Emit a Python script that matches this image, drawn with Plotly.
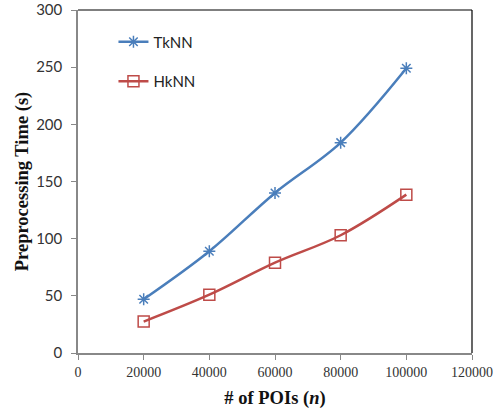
import plotly.graph_objects as go

pois = [20000, 40000, 60000, 80000, 100000]
tknn = [47, 89, 140, 184, 249]
hknn = [27.5, 51, 79, 103, 138.5]
x_ticks = [0, 20000, 40000, 60000, 80000, 100000, 120000]
y_ticks = [0, 50, 100, 150, 200, 250, 300]

fig = go.Figure()
fig.add_trace(go.Scatter(
    x=pois, y=tknn, name="TkNN", mode="lines+markers", legendgroup="a",
    line=dict(color="#4A7EBB", width=2.5, shape="spline", smoothing=1.0),
    marker=dict(symbol="asterisk-open", size=10, color="#4A7EBB", line=dict(color="#4A7EBB", width=1.5)),
))
fig.add_trace(go.Scatter(
    x=pois, y=hknn, name="HkNN", mode="lines+markers", legendgroup="b",
    line=dict(color="#BE4B48", width=2.5, shape="spline", smoothing=1.0),
    marker=dict(symbol="square-open", size=11, color="#BE4B48", line=dict(color="#BE4B48", width=1.5)),
))

fig.update_layout(
    width=493, height=415,
    margin=dict(l=78, r=21, t=10, b=62, autoexpand=False),
    paper_bgcolor="white", plot_bgcolor="white",
    showlegend=True,
    legend=dict(x=0.09, y=0.955, xanchor="left", yanchor="top",
                font=dict(family="Lato, DejaVu Sans, sans-serif", size=15, color="#222"),
                tracegroupgap=17, bgcolor="rgba(0,0,0,0)", itemwidth=30),
    xaxis=dict(range=[0, 120000], tickvals=x_ticks, ticktext=[str(v) for v in x_ticks],
               showgrid=False, zeroline=False, showline=True, linecolor="#888", linewidth=1.5,
               ticks="outside", ticklen=5, tickcolor="#888", automargin=False,
               tickfont=dict(family="Liberation Serif, serif", size=14, color="#333"),
               title=dict(text="# of POIs (<i>n</i>)", standoff=13,
                          font=dict(family="Liberation Serif, serif", size=18.5, color="#111", weight="bold"))),
    yaxis=dict(range=[0, 300], tickvals=y_ticks, showgrid=False, zeroline=False,
               showline=True, linecolor="#888", linewidth=1.5,
               ticks="outside", ticklen=5, tickcolor="#888", automargin=False,
               ticklabelstandoff=6,
               tickfont=dict(family="Lato, DejaVu Sans, sans-serif", size=15, color="#333"),
               title=dict(text="Preprocessing Time (s)", standoff=3,
                          font=dict(family="Liberation Serif, serif", size=18.5, color="#111", weight="bold"))),
    shapes=[
        dict(type="line", xref="paper", yref="paper", x0=0, x1=1, y0=1, y1=1, line=dict(color="black", width=1.2)),
        dict(type="line", xref="paper", yref="paper", x0=1, x1=1, y0=0, y1=1, line=dict(color="black", width=1.2)),
    ],
)
fig.write_html("out.html", config={"displayModeBar": False})

with open("out.html", "r", encoding="utf-8") as f:
    html = f.read()
html = html.replace("<head>", "<head><style>html,body{margin:0;padding:0;overflow:hidden;}</style>", 1)
with open("out.html", "w", encoding="utf-8") as f:
    f.write(html)
